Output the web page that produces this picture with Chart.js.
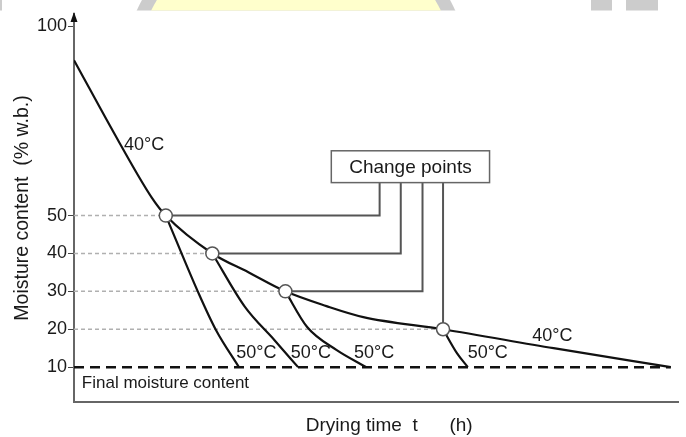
<!DOCTYPE html>
<html>
<head>
<meta charset="utf-8">
<script src="https://cdn.jsdelivr.net/npm/chart.js@4.4.0/dist/chart.umd.min.js"></script>
<style>
html,body{margin:0;padding:0;background:#fff}
#wrap{width:686px;height:437px}
</style>
</head>
<body>
<div id="wrap"><canvas id="c" width="686" height="437"></canvas></div>
<script>
// drying time axis is unlabelled (0..100), moisture in % w.b.
const mainT = [0, 7.5, 12.9, 15.2, 22.9, 28.8, 35.0, 41.8, 47.9, 61.1, 79.4, 98.8];
const mainM = [91, 69.3, 54.7, 50, 40, 35.1, 30, 26.1, 23.2, 20, 15, 10];

// change points: switch from 40°C to 50°C
const changeT = [15.2, 22.9, 35.0, 61.1];
const changeM = [50, 40, 30, 20];

// 50°C branches, one per change point
const branch1T = [15.2, 20.6, 23.5, 27.3];
const branch1M = [50, 29.6, 19.8, 10];
const branch2T = [22.9, 28.3, 33.2, 37.1];
const branch2M = [40, 25.9, 17.1, 10];
const branch3T = [35.0, 38.6, 43.5, 48.4];
const branch3M = [30, 20.6, 14.5, 10];
const branch4T = [61.1, 63.4, 65.2];
const branch4M = [20, 13.7, 10];

const finalM = 10;
const finalT = [0, 98.8];
const yTicks = [10, 20, 30, 40, 50, 100];

// leader lines from each change point up to the label box
const leaderT = [50.6, 54.1, 57.7, 61.1];
const boxBottom = 58.7;

const FONT = '"Liberation Sans", Arial, sans-serif';
const INK = '#1a1a1a';
const pts = (xs, ys) => xs.map((x, i) => ({x: x, y: ys[i]}));

const datasets = [];
// dashed guides from the axis to each change point
changeM.forEach((m, i) => {
  datasets.push({data: pts([0, changeT[i]], [m, m]), borderColor: '#b0b0b0', borderWidth: 1.5,
    borderDash: [4, 3], pointRadius: 0, showLine: true, order: 4});
});
// final moisture content
datasets.push({data: pts(finalT, [finalM, finalM]), borderColor: '#111', borderWidth: 2.5,
  borderDash: [10, 6], pointRadius: 0, showLine: true, order: 3});
// leaders
changeM.forEach((m, i) => {
  datasets.push({data: pts([changeT[i], leaderT[i], leaderT[i]], [m, m, boxBottom]), borderColor: '#555',
    borderWidth: 2, pointRadius: 0, showLine: true, tension: 0, order: 2});
});
// drying curves
[[mainT, mainM], [branch1T, branch1M], [branch2T, branch2M], [branch3T, branch3M], [branch4T, branch4M]]
  .forEach(([t, m]) => {
    datasets.push({data: pts(t, m), borderColor: '#111', borderWidth: 2.2, pointRadius: 0,
      showLine: true, cubicInterpolationMode: 'monotone', order: 1});
  });
// change point markers
datasets.push({data: pts(changeT, changeM), showLine: false, pointRadius: 6.5, pointHoverRadius: 6.5,
  pointBackgroundColor: '#fff', pointBorderColor: '#555', pointBorderWidth: 1.5, order: 0});

const decor = {
  id: 'decor',
  beforeDraw(chart) {
    const ctx = chart.ctx;
    ctx.save();
    ctx.beginPath();
    ctx.rect(0, 0, chart.width, 10.5);
    ctx.clip();
    ctx.fillStyle = '#cccccc';
    ctx.beginPath(); ctx.arc(296, 83, 175, 0, Math.PI * 2); ctx.fill();
    ctx.fillStyle = '#ffffcc';
    ctx.beginPath(); ctx.arc(296, 83, 162, 0, Math.PI * 2); ctx.fill();
    ctx.fillStyle = '#cccccc';
    ctx.fillRect(591, 0, 21, 11);
    ctx.fillRect(626, 0, 32, 11);
    ctx.fillRect(0, 0, 2, 11);
    ctx.restore();
  },
  afterDatasetsDraw(chart) {
    const {ctx, scales: {x, y}} = chart;
    ctx.save();
    // label box
    const bx0 = x.getPixelForValue(42.6), bx1 = x.getPixelForValue(68.8);
    const by0 = y.getPixelForValue(67.1), by1 = y.getPixelForValue(boxBottom);
    ctx.fillStyle = '#fff';
    ctx.fillRect(bx0, by0, bx1 - bx0, by1 - by0);
    ctx.strokeStyle = '#666';
    ctx.lineWidth = 1.5;
    ctx.strokeRect(bx0, by0, bx1 - bx0, by1 - by0);
    ctx.fillStyle = INK;
    ctx.textBaseline = 'middle';
    ctx.textAlign = 'center';
    ctx.font = '19px ' + FONT;
    ctx.fillText('Change points', (bx0 + bx1) / 2, (by0 + by1) / 2 + 1);

    ctx.font = '18px ' + FONT;
    const label = (txt, tx, my) => ctx.fillText(txt, x.getPixelForValue(tx), y.getPixelForValue(my));
    label('40°C', 11.6, 68.6);
    label('40°C', 79.2, 18.2);
    [30.2, 39.2, 49.7, 68.5].forEach(t => label('50°C', t, 13.7));
    ctx.textAlign = 'left';
    ctx.font = '17px ' + FONT;
    label('Final moisture content', 1.3, 5.8);
    ctx.restore();
  },
  afterDraw(chart) {
    const {ctx, chartArea} = chart;
    ctx.save();
    ctx.fillStyle = '#111';
    ctx.beginPath();
    ctx.moveTo(chartArea.left, chartArea.top - 2);
    ctx.lineTo(chartArea.left - 3.5, chartArea.top + 8);
    ctx.lineTo(chartArea.left + 3.5, chartArea.top + 8);
    ctx.closePath();
    ctx.fill();
    ctx.restore();
  }
};

new Chart(document.getElementById('c'), {
  type: 'scatter',
  data: {datasets: datasets},
  plugins: [decor],
  options: {
    responsive: false,
    animation: false,
    devicePixelRatio: 1,
    layout: {padding: {top: 14, right: 0, bottom: 0, left: 0}},
    plugins: {legend: {display: false}, tooltip: {enabled: false}},
    scales: {
      x: {
        type: 'linear', min: 0, max: 100,
        afterFit: s => { s.height = 35; },
        grid: {display: false},
        border: {display: true, color: '#666', width: 2},
        ticks: {display: false},
        title: {display: true, text: '     Drying time  t      (h)', color: INK,
          font: {family: FONT, size: 19}, padding: {top: 0, bottom: 0}}
      },
      y: {
        type: 'linear', min: 0.8, max: 103.2,
        afterFit: s => { s.width = 74; },
        afterBuildTicks: s => { s.ticks = yTicks.map(v => ({value: v})); },
        grid: {drawOnChartArea: false, drawTicks: true, tickLength: 6, color: '#444'},
        border: {display: true, color: '#666', width: 2},
        ticks: {color: INK, padding: 1, font: {family: FONT, size: 18}},
        title: {display: true, text: 'Moisture content  (% w.b.)', color: INK,
          font: {family: FONT, size: 19.5}, padding: {top: 11, bottom: 0}}
      }
    }
  }
});
</script>
</body>
</html>
